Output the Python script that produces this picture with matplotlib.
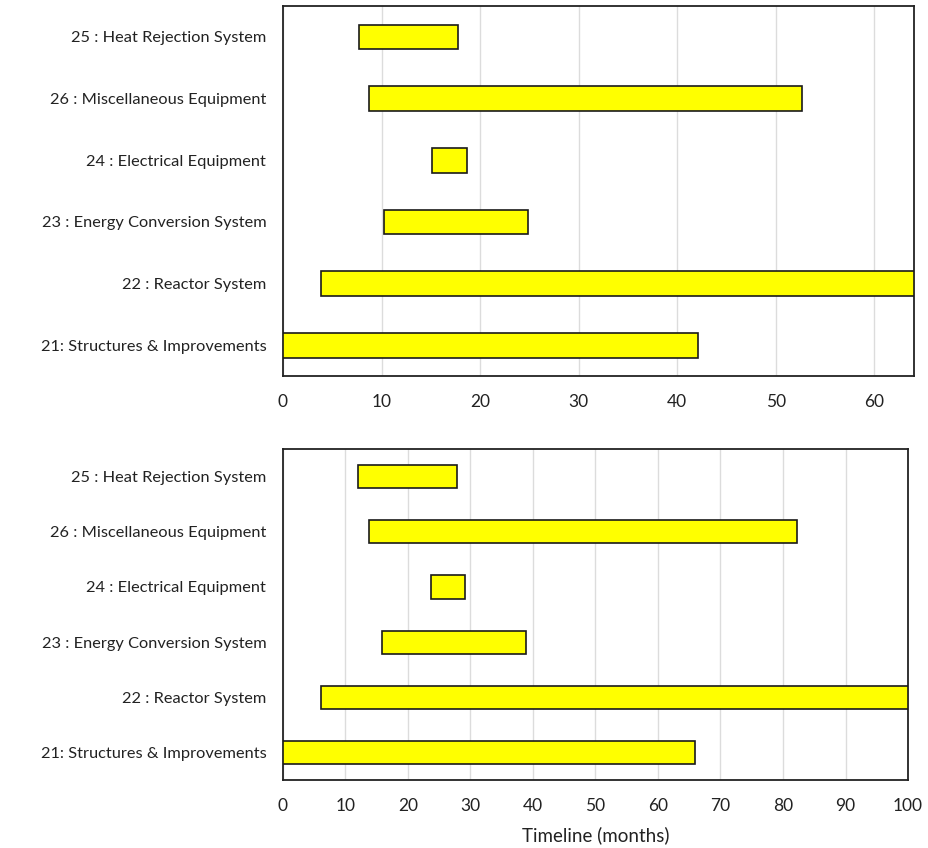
import matplotlib
matplotlib.use("Agg")
import matplotlib.pyplot as plt

plt.rcParams['font.family'] = ['Lato', 'DejaVu Sans']

categories = ["21: Structures & Improvements", "22 : Reactor System",
              "23 : Energy Conversion System", "24 : Electrical Equipment",
              "26 : Miscellaneous Equipment", "25 : Heat Rejection System"]

top_start = [0.0, 3.9, 10.2, 15.1, 8.7, 7.7]
top_end = [42.1, 64.0, 24.9, 18.7, 52.7, 17.8]

bot_start = [0.0, 6.1, 15.8, 23.7, 13.8, 12.0]
bot_end = [65.9, 100.0, 38.9, 29.1, 82.2, 27.8]

top_xticks = [0, 10, 20, 30, 40, 50, 60]
bot_xticks = [0, 10, 20, 30, 40, 50, 60, 70, 80, 90, 100]

fig = plt.figure(figsize=(9.29, 8.48), dpi=100)
ax1 = fig.add_axes([0.3046, 0.5566, 0.679, 0.4363])
ax2 = fig.add_axes([0.3046, 0.0802, 0.6728, 0.3903])

def draw(ax, starts, ends, xmax, xticks, height):
    y = list(range(len(categories)))
    widths = [e - s for s, e in zip(starts, ends)]
    ax.barh(y, widths, left=starts, height=height, color='#FFFF00',
            edgecolor='#1a1a1a', linewidth=1.2, zorder=3)
    ax.set_xlim(0, xmax)
    ax.set_ylim(-0.5, len(categories) - 0.5)
    ax.set_yticks(y)
    ax.set_yticklabels(categories, fontsize=11.8, color='#222222')
    ax.set_xticks(xticks)
    ax.set_xticklabels([str(t) for t in xticks], fontsize=12.5, color='#222222')
    ax.tick_params(axis='y', length=0, pad=12)
    ax.tick_params(axis='x', length=0, pad=13)
    ax.grid(axis='x', color='#dcdcdc', linewidth=1.0, zorder=0)
    for s in ax.spines.values():
        s.set_color('#222222')
        s.set_linewidth(1.3)

draw(ax1, top_start, top_end, 64, top_xticks, 0.4)
draw(ax2, bot_start, bot_end, 100, bot_xticks, 0.42)
ax2.set_xlabel("Timeline (months)", fontsize=13.5, color='#222222', labelpad=9)

fig.savefig("out.png", dpi=100)
